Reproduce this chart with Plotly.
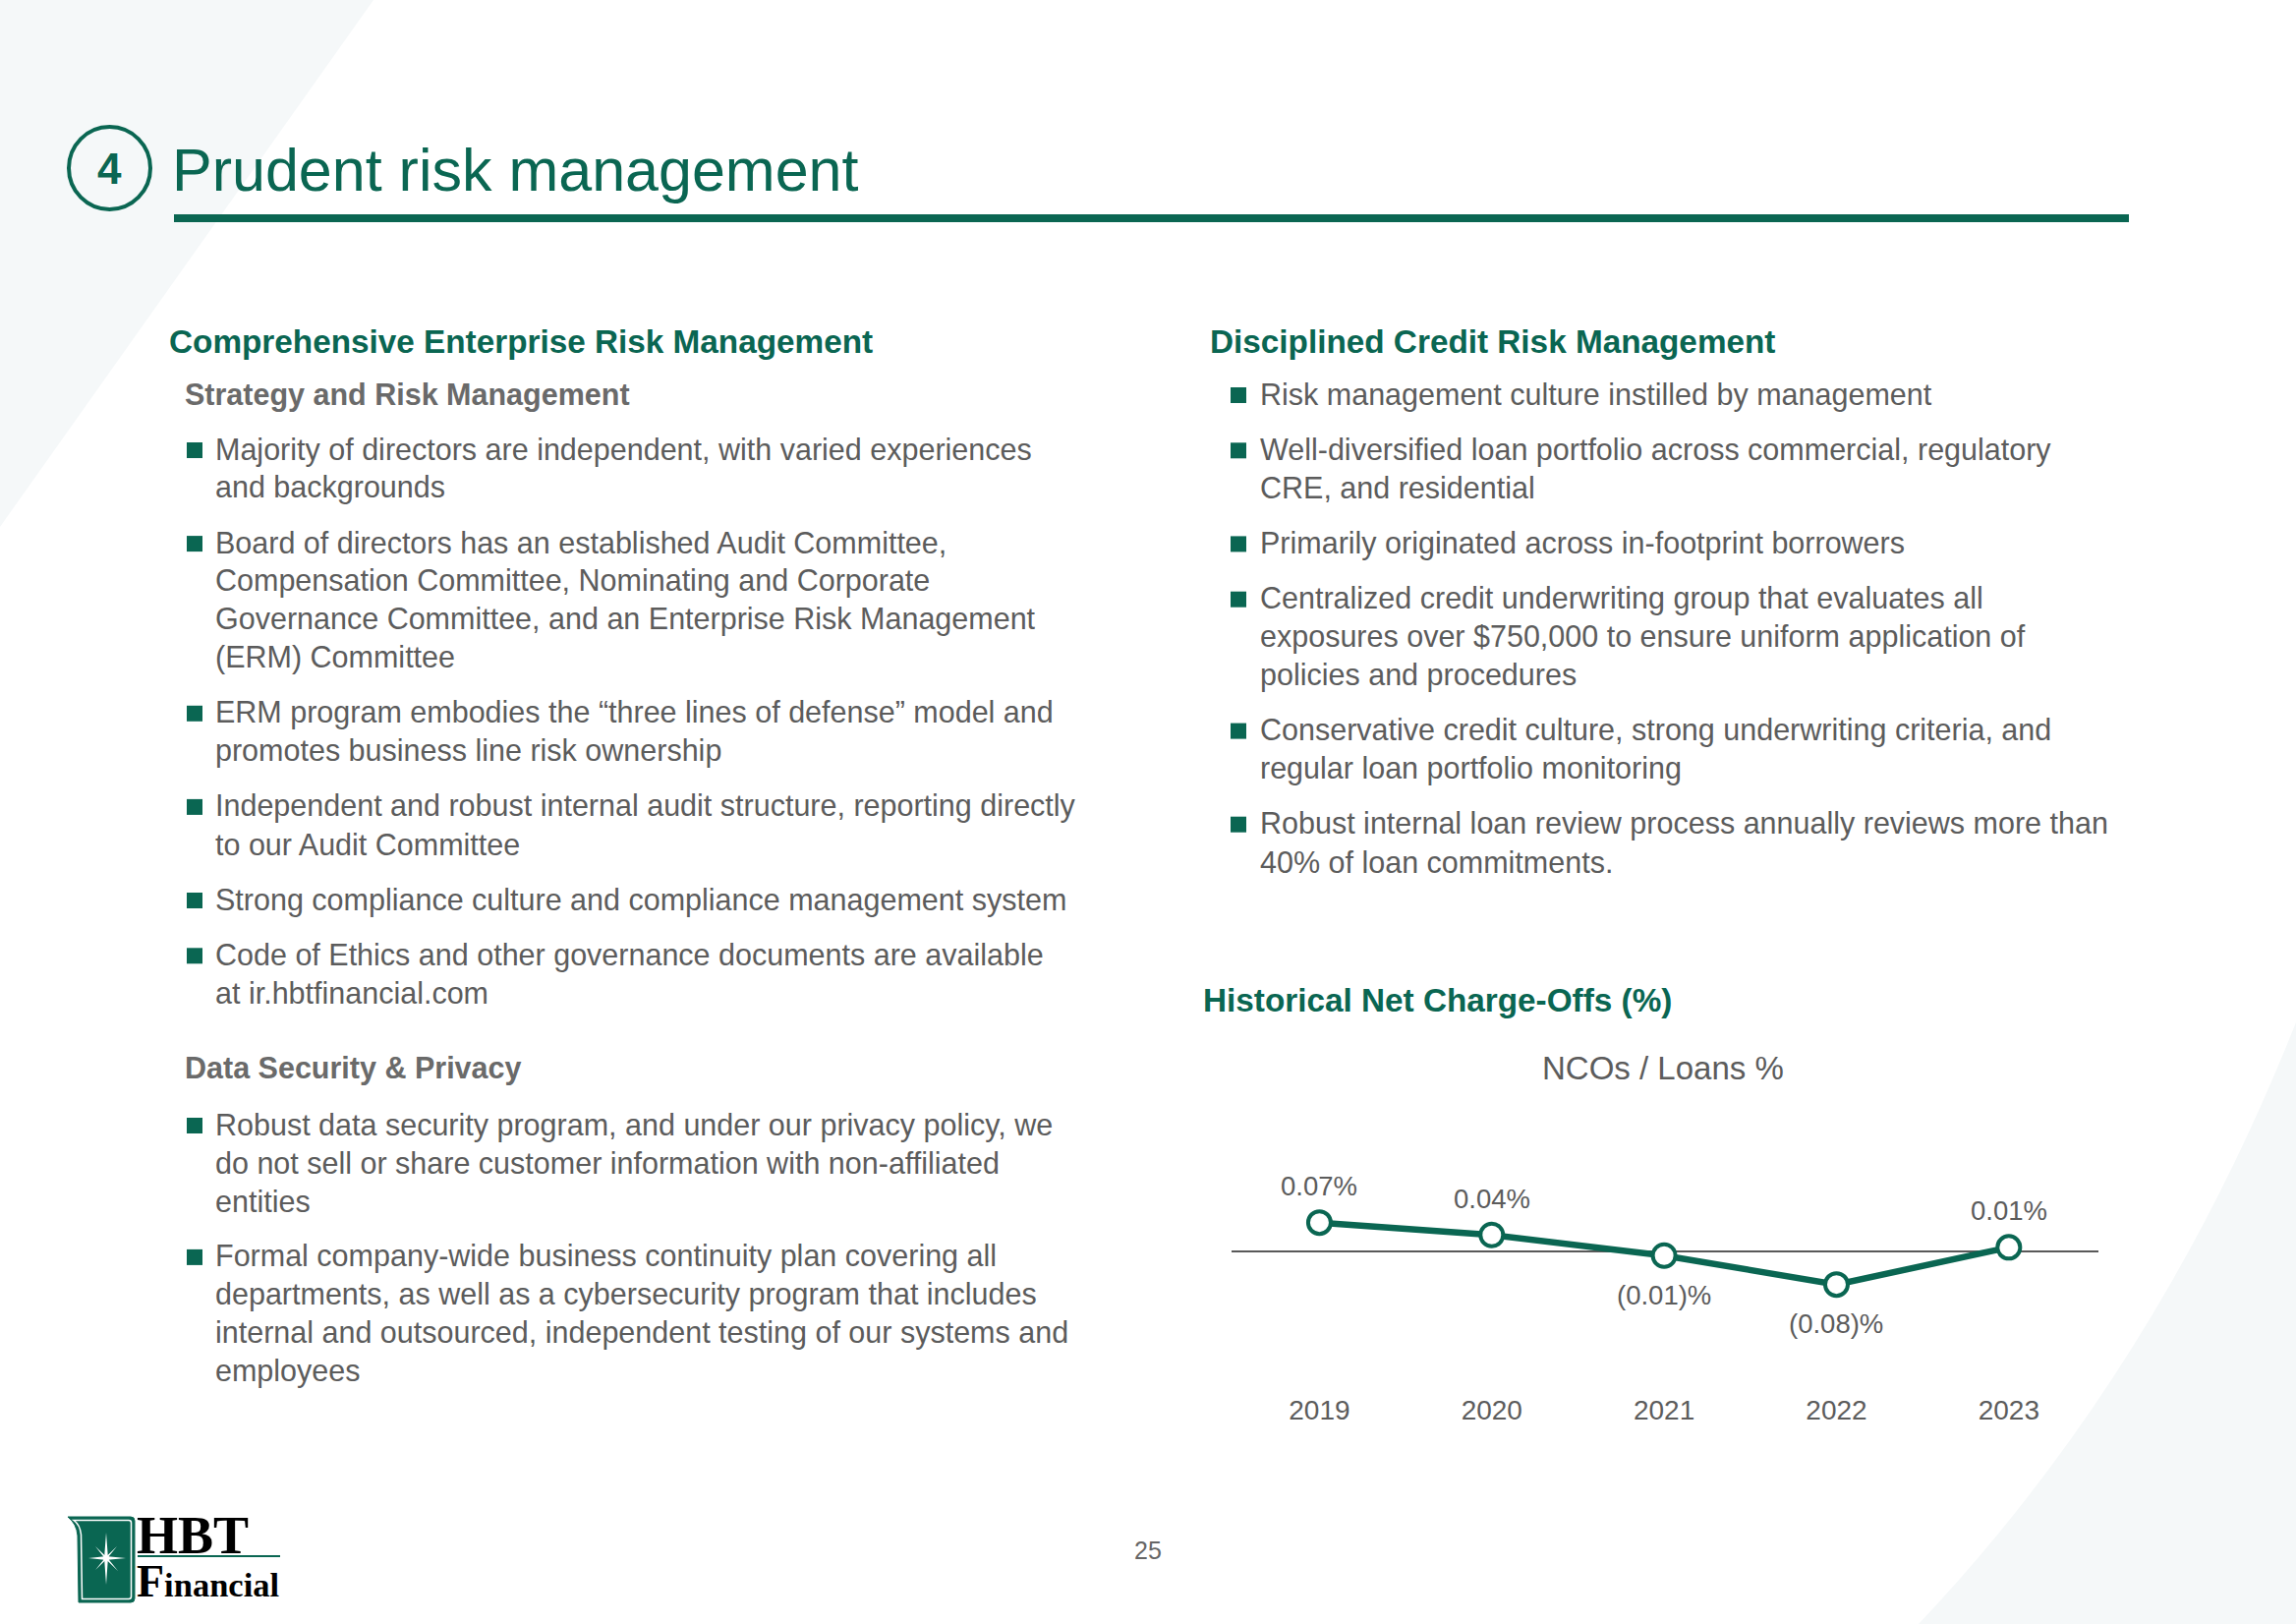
import plotly.graph_objects as go

# ---- chart data ----
years = ['2019', '2020', '2021', '2022', '2023']
nco_pct = [0.07, 0.04, -0.01, -0.08, 0.01]

# ---- slide text ----
slide_title = 'Prudent risk management'
section_num = '4'
left_heading = 'Comprehensive Enterprise Risk Management'
left_sub1 = 'Strategy and Risk Management'
left_bullets1 = [
    ['Majority of directors are independent, with varied experiences',
     'and backgrounds'],
    ['Board of directors has an established Audit Committee,',
     'Compensation Committee, Nominating and Corporate',
     'Governance Committee, and an Enterprise Risk Management',
     '(ERM) Committee'],
    ['ERM program embodies the \u201cthree lines of defense\u201d model and',
     'promotes business line risk ownership'],
    ['Independent and robust internal audit structure, reporting directly',
     'to our Audit Committee'],
    ['Strong compliance culture and compliance management system'],
    ['Code of Ethics and other governance documents are available',
     'at ir.hbtfinancial.com'],
]
left_sub2 = 'Data Security & Privacy'
left_bullets2 = [
    ['Robust data security program, and under our privacy policy, we',
     'do not sell or share customer information with non-affiliated',
     'entities'],
    ['Formal company-wide business continuity plan covering all',
     'departments, as well as a cybersecurity program that includes',
     'internal and outsourced, independent testing of our systems and',
     'employees'],
]
right_heading = 'Disciplined Credit Risk Management'
right_bullets = [
    ['Risk management culture instilled by management'],
    ['Well-diversified loan portfolio across commercial, regulatory',
     'CRE, and residential'],
    ['Primarily originated across in-footprint borrowers'],
    ['Centralized credit underwriting group that evaluates all',
     'exposures over $750,000 to ensure uniform application of',
     'policies and procedures'],
    ['Conservative credit culture, strong underwriting criteria, and',
     'regular loan portfolio monitoring'],
    ['Robust internal loan review process annually reviews more than',
     '40% of loan commitments.'],
]
chart_heading = 'Historical Net Charge-Offs (%)'
chart_title = 'NCOs / Loans %'
page_num = '25'

W, H = 2336, 1652
GREEN = '#0A6652'
GRAY = '#5C5C5C'
SUBGRAY = '#6A6A6A'
FONT = 'Liberation Sans, Arial, sans-serif'
SERIF = 'Liberation Serif, Times New Roman, serif'
BODY = 30.5
HEAD = 33.3
PITCH = 38.8
GAP = 56.3

fig = go.Figure()

# chart
fig.add_trace(go.Scatter(
    x=years, y=nco_pct, mode='lines+markers',
    line=dict(color=GREEN, width=6.5),
    marker=dict(size=23, color='white', line=dict(color=GREEN, width=4)),
    showlegend=False, hoverinfo='skip', cliponaxis=False))
# empty trace on the pixel overlay axes
fig.add_trace(go.Scatter(x=[], y=[], xaxis='x2', yaxis='y2', showlegend=False))

annotations = []
shapes = []


def text(x, y, s, size=BODY, color=GRAY, bold=False, anchor='left', family=FONT):
    annotations.append(dict(
        x=x, y=y, xref='x2', yref='y2', text=f'<b>{s}</b>' if bold else s,
        showarrow=False, xanchor=anchor, yanchor='middle',
        font=dict(family=family, size=size, color=color)))


def bullets(blocks, y, sq_x, tx):
    for block in blocks:
        shapes.append(dict(type='rect', xref='x2', yref='y2', x0=sq_x, x1=sq_x + 16,
                           y0=y - 7, y1=y + 9, fillcolor=GREEN, line_width=0))
        for i, line in enumerate(block):
            text(tx, y, line)
            y += PITCH if i < len(block) - 1 else GAP
    return y


# background decorations
shapes.append(dict(type='path', xref='x2', yref='y2', layer='below',
                   path='M 0,0 L 380,0 L 0,536 Z', fillcolor='#F5F8F9', line_width=0))
shapes.append(dict(type='path', xref='x2', yref='y2', layer='below',
                   path='M 2336,1040 Q 2195,1395 1952,1652 L 2336,1652 Z',
                   fillcolor='#F5F8F9', line_width=0))

# header
shapes.append(dict(type='circle', xref='x2', yref='y2', x0=70, x1=153, y0=129, y1=213,
                   line=dict(color=GREEN, width=4)))
text(111.5, 171, section_num, size=44, color=GREEN, bold=True, anchor='center')
text(173, 173, slide_title, size=61, color=GREEN)
shapes.append(dict(type='rect', xref='x2', yref='y2', x0=177, x1=2166, y0=218, y1=226,
                   fillcolor=GREEN, line_width=0))

# left column
text(170, 347, left_heading, size=HEAD, color=GREEN, bold=True)
text(186, 401, left_sub1, size=BODY, color=SUBGRAY, bold=True)
bullets(left_bullets1, 457, 190, 217)
text(186, 1086, left_sub2, size=BODY, color=SUBGRAY, bold=True)
bullets(left_bullets2, 1144, 190, 217)

# right column
text(1229, 347, right_heading, size=HEAD, color=GREEN, bold=True)
bullets(right_bullets, 401, 1252, 1280)
text(1222, 1017, chart_heading, size=HEAD, color=GREEN, bold=True)
text(1692, 1086, chart_title, size=33, color=GRAY, anchor='center')

# data labels (category axis -> use positional index)
for i, v in enumerate(nco_pct):
    lab = f'{v:.2f}%' if v >= 0 else f'({abs(v):.2f})%'
    annotations.append(dict(x=i, y=v, xref='x', yref='y', text=lab, showarrow=False,
                            yshift=37 if v >= 0 else -40,
                            font=dict(family=FONT, size=27.5, color=GRAY)))

# page number
text(1168, 1577, page_num, size=25, color='#666666', anchor='center')

# logo
shapes.append(dict(type='path', xref='x2', yref='y2',
                   path='M 69,1543 L 133,1543 Q 137,1543 137,1547 L 137,1626 Q 137,1630 133,1630 '
                        'L 80,1630 L 79,1562 Q 78,1550 69,1543 Z',
                   fillcolor=GREEN, line=dict(color=GREEN, width=1)))
shapes.append(dict(type='path', xref='x2', yref='y2',
                   path='M 75,1546.5 L 131,1546.5 Q 133.5,1546.5 133.5,1549 L 133.5,1624 Q 133.5,1626.5 131,1626.5 '
                        'L 83.5,1626.5 L 82.5,1561 Q 81.5,1551 75,1546.5 Z',
                   fillcolor='rgba(0,0,0,0)', line=dict(color='white', width=1.5)))
cx, cy = 108, 1585
shapes.append(dict(type='path', xref='x2', yref='y2',
                   path=f'M {cx},{cy-26} L {cx+1.8},{cy-1.8} L {cx+20},{cy} L {cx+1.8},{cy+1.8} '
                        f'L {cx},{cy+27} L {cx-1.8},{cy+1.8} L {cx-18},{cy} L {cx-1.8},{cy-1.8} Z',
                   fillcolor='white', line_width=0))
shapes.append(dict(type='path', xref='x2', yref='y2',
                   path=f'M {cx-11},{cy-12} L {cx+1.5},{cy} L {cx+12},{cy+13} L {cx-1.5},{cy} Z '
                        f'M {cx+11},{cy-12} L {cx},{cy+1.5} L {cx-11},{cy+12} L {cx},{cy-1.5} Z',
                   fillcolor='white', line_width=0))
shapes.append(dict(type='circle', xref='x2', yref='y2', x0=cx - 3, x1=cx + 3, y0=cy - 3, y1=cy + 3,
                   fillcolor='white', line_width=0))
text(137, 1562, 'HBT', size=54, color='black', bold=True, family=SERIF)
shapes.append(dict(type='line', xref='x2', yref='y2', x0=140, x1=285, y0=1583, y1=1583,
                   line=dict(color=GREEN, width=2)))
text(137, 1608, '<span style="font-size:46px">F</span>inancial', size=34.5, color='black',
     bold=True, family=SERIF)

# chart axes: category spacing ~175.4 px, 0.01% ~ 4.2 px
x_left, x_right = 1253, 2135
y_top, y_bot = 1150, 1415
fig.update_layout(
    width=W, height=H,
    margin=dict(l=0, r=0, t=0, b=0),
    paper_bgcolor='white', plot_bgcolor='rgba(0,0,0,0)',
    showlegend=False,
    xaxis=dict(domain=[x_left / W, x_right / W], type='category', range=[-0.51, 4.52],
               showgrid=False, showline=False, zeroline=False, ticks='',
               tickfont=dict(family=FONT, size=28, color=GRAY), fixedrange=True),
    yaxis=dict(domain=[1 - y_bot / H, 1 - y_top / H], range=[-0.338, 0.293],
               showgrid=False, showline=False, showticklabels=False, ticks='',
               zeroline=True, zerolinecolor='#595959', zerolinewidth=2, fixedrange=True),
    xaxis2=dict(domain=[0, 1], range=[0, W], visible=False, anchor='y2', fixedrange=True),
    yaxis2=dict(domain=[0, 1], range=[H, 0], visible=False, anchor='x2', fixedrange=True),
    annotations=annotations,
    shapes=shapes,
)

fig.write_html('out.html', config={'displayModeBar': False},
               post_script="document.body.style.margin='0';")
